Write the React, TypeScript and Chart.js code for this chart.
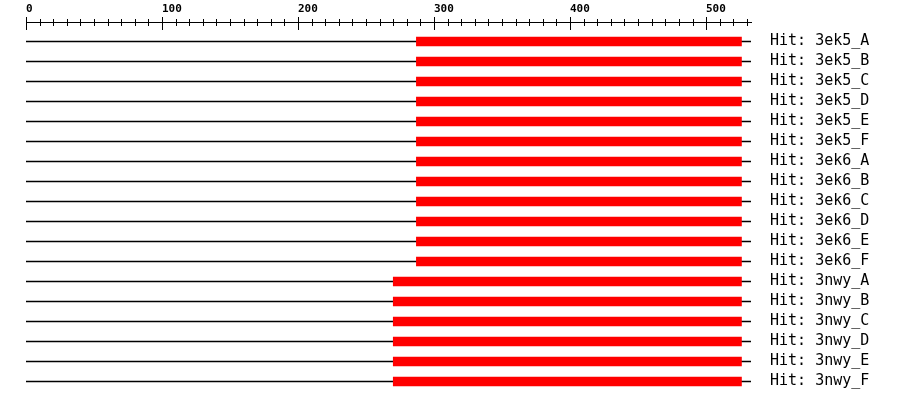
import React, { useEffect, useRef } from "react";
import { Chart, registerables } from "chart.js";

Chart.register(...registerables);

const hitLabels = [
  "Hit: 3ek5_A", "Hit: 3ek5_B", "Hit: 3ek5_C", "Hit: 3ek5_D", "Hit: 3ek5_E", "Hit: 3ek5_F",
  "Hit: 3ek6_A", "Hit: 3ek6_B", "Hit: 3ek6_C", "Hit: 3ek6_D", "Hit: 3ek6_E", "Hit: 3ek6_F",
  "Hit: 3nwy_A", "Hit: 3nwy_B", "Hit: 3nwy_C", "Hit: 3nwy_D", "Hit: 3nwy_E", "Hit: 3nwy_F",
];
const hitStarts = [287, 287, 287, 287, 287, 287, 287, 287, 287, 287, 287, 287, 270, 270, 270, 270, 270, 270];
const hitEnds = [526, 526, 526, 526, 526, 526, 526, 526, 526, 526, 526, 526, 526, 526, 526, 526, 526, 526];
const queryLength = 533;
const majorTicks = [0, 100, 200, 300, 400, 500];
const minorTicks = [0, 10, 20, 30, 40, 50, 60, 70, 80, 90, 100, 110, 120, 130, 140, 150, 160, 170, 180, 190, 200,
  210, 220, 230, 240, 250, 260, 270, 280, 290, 300, 310, 320, 330, 340, 350, 360, 370, 380, 390, 400,
  410, 420, 430, 440, 450, 460, 470, 480, 490, 500, 510, 520, 530];

const topAxisPlugin = {
  id: "topAxis",
  afterDraw(chart: any) {
    const ctx = chart.ctx;
    const xs = chart.scales.x;
    const px = (v: number) => Math.round(xs.getPixelForValue(v)) + 0.5;
    ctx.save();
    ctx.strokeStyle = "#000";
    ctx.lineWidth = 1;
    ctx.beginPath();
    ctx.moveTo(px(0) - 0.5, 22.5);
    ctx.lineTo(px(queryLength) + 0.5, 22.5);
    for (const t of minorTicks) {
      if (majorTicks.includes(t)) continue;
      ctx.moveTo(px(t), 19);
      ctx.lineTo(px(t), 26);
    }
    for (const t of majorTicks) {
      ctx.moveTo(px(t), 17);
      ctx.lineTo(px(t), 30);
    }
    ctx.stroke();
    ctx.fillStyle = "#000";
    ctx.font = "bold 11px 'DejaVu Sans Mono'";
    ctx.textAlign = "left";
    ctx.textBaseline = "alphabetic";
    for (const t of majorTicks) {
      ctx.fillText(String(t), px(t) - 0.5, 12);
    }
    ctx.restore();
  },
};

export default function App() {
  const ref = useRef<HTMLCanvasElement>(null);
  useEffect(() => {
    const chart = new Chart(ref.current!, {
      type: "bar",
      data: {
        labels: hitLabels,
        datasets: [
          {
            data: hitLabels.map((_, i) => [hitStarts[i], hitEnds[i]]),
            backgroundColor: "#ff0000",
            barThickness: 9,
            grouped: false,
            order: 1,
          } as any,
          {
            data: hitLabels.map(() => [0, queryLength]),
            backgroundColor: "#000000",
            barThickness: 1,
            grouped: false,
            order: 2,
          } as any,
        ],
      },
      options: {
        indexAxis: "y",
        animation: false,
        responsive: false,
        layout: { padding: { left: 26, top: 31.5, bottom: 8.5, right: 0 } },
        plugins: { legend: { display: false }, tooltip: { enabled: false } },
        scales: {
          x: { type: "linear", min: 0, max: queryLength, display: false },
          y: {
            position: "right",
            grid: { display: false, drawTicks: false },
            border: { display: false },
            ticks: {
              color: "#000",
              font: { family: "'DejaVu Sans Mono'", size: 15 },
              padding: 19,
              autoSkip: false,
            },
            afterFit: (s: any) => {
              s.width = 149;
              s.paddingTop = 0;
              s.paddingBottom = 0;
            },
          },
        },
      },
      plugins: [topAxisPlugin],
    });
    return () => chart.destroy();
  }, []);
  return (
    <div style={{ position: "absolute", left: 0, top: 0, width: 900, height: 400, background: "#fff" }}>
      <canvas ref={ref} width={900} height={400} />
    </div>
  );
}
